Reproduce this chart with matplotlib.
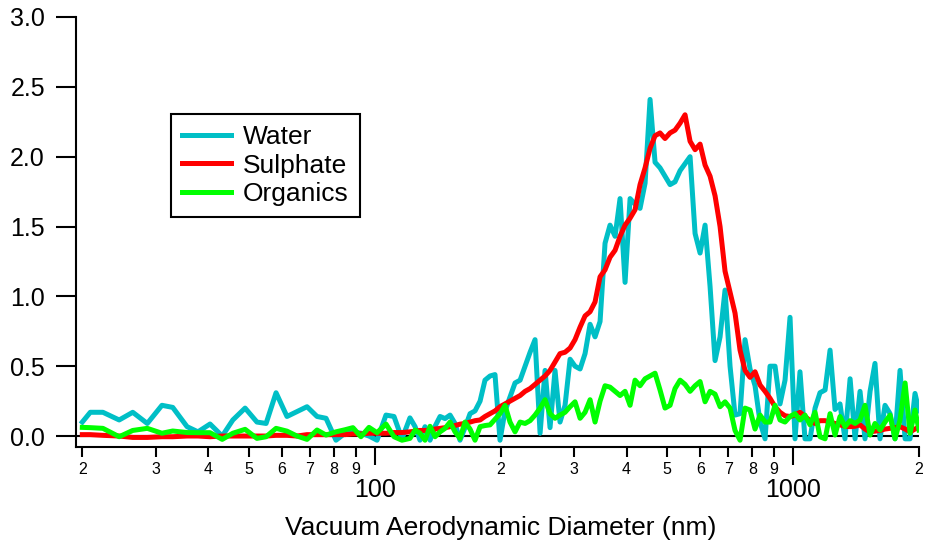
import matplotlib
matplotlib.use('Agg')
import matplotlib.pyplot as plt

# size bins (vacuum aerodynamic diameter, nm)
diameter = [
    20.0, 20.9, 22.4, 24.5, 26.4, 28.6, 31.0, 32.9, 35.6, 37.8,
    40.4, 43.2, 45.8, 49.0, 52.3, 55.0, 58.1, 61.7, 65.2, 68.9,
    72.8, 76.5, 80.8, 84.9, 88.7, 92.7, 96.9, 101.3, 106.4, 111.2,
    116.2, 121.4, 124.9,
    128.3, 131.9, 135.6, 139.4, 143.3, 147.3, 151.4, 155.6, 159.9, 164.4,
    169.0, 173.7, 178.6, 183.5, 188.7, 193.9, 199.3, 204.9, 210.6, 216.5,
    222.6, 228.8, 235.2, 241.7, 248.5, 255.4, 262.5, 269.8, 277.3, 285.1,
    293.1, 301.2, 309.7, 318.3, 327.2, 336.3, 345.7, 355.3, 365.2, 375.5,
    385.9, 396.7, 407.8, 419.1, 430.8, 442.9, 455.2, 467.9, 480.9, 494.3,
    508.2, 522.3, 537.0, 551.9, 567.4, 583.2, 599.5, 616.2, 633.4, 651.0,
    669.2, 687.8, 707.0, 726.7, 747.0, 767.8, 789.3, 811.3, 834.0, 857.3,
    881.0, 905.7, 930.9, 956.9, 983.6, 1011, 1039, 1068, 1098, 1129,
    1160, 1193, 1226, 1260, 1295, 1331, 1369, 1407, 1446, 1486,
    1528, 1570, 1614, 1659, 1706, 1753, 1802, 1853, 1904, 1957,
    2000,
]

water = [
    0.10, 0.17, 0.17, 0.115, 0.17, 0.09, 0.22, 0.205, 0.067, 0.03,
    0.086, 0.0, 0.115, 0.20, 0.10, 0.09, 0.31, 0.14, 0.175, 0.21,
    0.14, 0.127, -0.03, 0.02, 0.03, 0.02, 0.0, -0.03, 0.15, 0.14,
    -0.02, 0.13, 0.067,
    -0.03, 0.067, -0.03, 0.07, 0.14, 0.125, 0.15, 0.09, -0.03, 0.06,
    0.16, 0.18, 0.25, 0.40, 0.43, 0.44, -0.03, 0.18, 0.28, 0.38,
    0.40, 0.50, 0.60, 0.69, 0.02, 0.47, 0.06, 0.47, 0.10, 0.22,
    0.55, 0.50, 0.48, 0.59, 0.80, 0.71, 0.82, 1.38, 1.51, 1.43,
    1.70, 1.10, 1.70, 1.66, 1.63, 1.81, 2.41, 1.96, 1.92, 1.86,
    1.80, 1.82, 1.90, 1.95, 2.00, 1.45, 1.31, 1.51, 1.07, 0.54,
    0.71, 1.045, 0.50, 0.15, 0.16, 0.69, 0.48, 0.36, 0.10, -0.02,
    0.50, 0.50, 0.23, 0.40, 0.85, -0.02, 0.46, -0.02, -0.02, 0.20,
    0.31, 0.33, 0.615, 0.19, 0.23, -0.02, 0.41, -0.02, 0.32, -0.02,
    0.32, 0.52, -0.02, 0.22, 0.16, -0.02, 0.47, -0.02, -0.02, 0.305,
    0.18,
]

sulphate = [
    0.01, 0.01, 0.005, 0.0, -0.01, -0.01, -0.005, -0.005, 0.0, 0.0,
    -0.005, 0.0, 0.0, 0.0, 0.0, 0.0, 0.005, 0.005, 0.0, 0.01,
    0.01, 0.01, 0.01, 0.01, 0.015, 0.015, 0.02, 0.02, 0.02, 0.025,
    0.025, 0.03, 0.035,
    0.04, 0.04, 0.043, 0.05, 0.055, 0.06, 0.067, 0.075, 0.085, 0.09,
    0.10, 0.11, 0.115, 0.14, 0.16, 0.18, 0.21, 0.23, 0.25, 0.27,
    0.29, 0.32, 0.34, 0.37, 0.40, 0.43, 0.47, 0.53, 0.59, 0.60,
    0.63, 0.69, 0.78, 0.86, 0.89, 0.96, 1.14, 1.19, 1.28, 1.33,
    1.43, 1.51, 1.56, 1.62, 1.80, 1.92, 2.06, 2.15, 2.17, 2.13,
    2.17, 2.19, 2.24, 2.30, 2.11, 2.05, 2.09, 1.94, 1.86, 1.72,
    1.50, 1.18, 1.03, 0.88, 0.615, 0.47, 0.42, 0.46, 0.365, 0.32,
    0.27, 0.21, 0.17, 0.145, 0.14, 0.15, 0.17, 0.14, 0.11, 0.09,
    0.11, 0.11, 0.10, 0.09, 0.08, 0.07, 0.067, 0.07, 0.08, 0.05,
    0.03, 0.035, 0.04, 0.05, 0.055, 0.06, 0.067, 0.05, 0.03, 0.05,
    0.067,
]

organics = [
    0.062, 0.06, 0.055, -0.005, 0.04, 0.055, 0.02, 0.036, 0.025, 0.024,
    0.024, -0.024, 0.02, 0.048, -0.017, -0.005, 0.055, 0.035, 0.0, -0.024,
    0.043, 0.007, 0.03, 0.045, 0.06, -0.005, 0.062, 0.024, 0.086, -0.005,
    -0.03, -0.017, 0.043,
    0.02, -0.03, 0.07, -0.005, 0.03, 0.055, 0.10, 0.03, -0.017, 0.10,
    0.05, -0.03, 0.067, 0.075, 0.08, 0.12, 0.16, 0.22, 0.10, 0.03,
    0.10, 0.09, 0.11, 0.15, 0.20, 0.26, 0.16, 0.127, 0.15, 0.17,
    0.21, 0.245, 0.127, 0.17, 0.26, 0.10, 0.25, 0.36, 0.35, 0.32,
    0.29, 0.32, 0.22, 0.40, 0.36, 0.41, 0.43, 0.45, 0.33, 0.20,
    0.22, 0.34, 0.40, 0.37, 0.32, 0.36, 0.39, 0.245, 0.32, 0.30,
    0.21, 0.245, 0.20, 0.04, -0.03, 0.20, 0.186, 0.05, 0.15, 0.10,
    0.10, 0.22, 0.115, 0.10, 0.14, 0.16, 0.115, 0.15, 0.08, 0.17,
    -0.005, -0.02, 0.16, 0.007, 0.14, 0.067, 0.11, 0.09, 0.115, 0.22,
    0.007, 0.09, 0.043, 0.10, 0.15, -0.02, 0.115, 0.38, 0.02, 0.186,
    0.043,
]

major_ticks = [100, 1000]
major_labels = ['100', '1000']
minor_ticks = [20, 30, 40, 50, 60, 70, 80, 90,
               200, 300, 400, 500, 600, 700, 800, 900, 2000]
minor_labels = ['2', '3', '4', '5', '6', '7', '8', '9',
                '2', '3', '4', '5', '6', '7', '8', '9', '2']
y_ticks = [0.0, 0.5, 1.0, 1.5, 2.0, 2.5, 3.0]

plt.rcParams['font.family'] = ['Liberation Sans', 'DejaVu Sans']

fig = plt.figure(figsize=(9.26, 5.43), dpi=100)
ax = fig.add_axes([0.0821, 0.1759, 0.9103, 0.7928])

lw = 3.6
ax.axhline(0, color='black', lw=1.5, zorder=1.5)
ax.plot(diameter, water, color='#00BFC6', lw=lw, label='Water')
ax.plot(diameter, sulphate, color='#FF0000', lw=lw, label='Sulphate')
ax.plot(diameter, organics, color='#00FF00', lw=lw, label='Organics')

ax.set_xscale('log')
ax.set_xlim(19.32, 2000)
ax.set_ylim(-0.082, 3.0)

ax.set_xticks(major_ticks)
ax.set_xticklabels(major_labels)
ax.set_xticks(minor_ticks, minor=True)
ax.set_xticklabels(minor_labels, minor=True)
ax.set_yticks(y_ticks)
ax.set_yticklabels(['%.1f' % v for v in y_ticks])

ax.tick_params(axis='x', which='major', direction='out', length=13.3,
               width=1.5, labelsize=18, pad=8.5)
ax.tick_params(axis='x', which='minor', direction='out', length=7.2,
               width=1.5, labelsize=11.5, pad=3.4)
ax.tick_params(axis='y', which='major', direction='out', length=14.4,
               width=1.5, labelsize=18, pad=8)

for side in ('top', 'right'):
    ax.spines[side].set_visible(False)
for side in ('left', 'bottom'):
    ax.spines[side].set_linewidth(1.5)

ax.set_xlabel('Vacuum Aerodynamic Diameter (nm)', fontsize=19)
ax.xaxis.set_label_coords(0.504, -0.158)
ax.xaxis.label.set_va('top')

leg = ax.legend(loc='upper left', bbox_to_anchor=(0.1127, 0.7747),
                borderaxespad=0, fontsize=19, fancybox=False,
                edgecolor='black', framealpha=1, borderpad=0.42,
                labelspacing=0.17, handlelength=1.85, handletextpad=0.45)
leg.get_frame().set_linewidth(1.5)

fig.savefig('out.png', dpi=100)
